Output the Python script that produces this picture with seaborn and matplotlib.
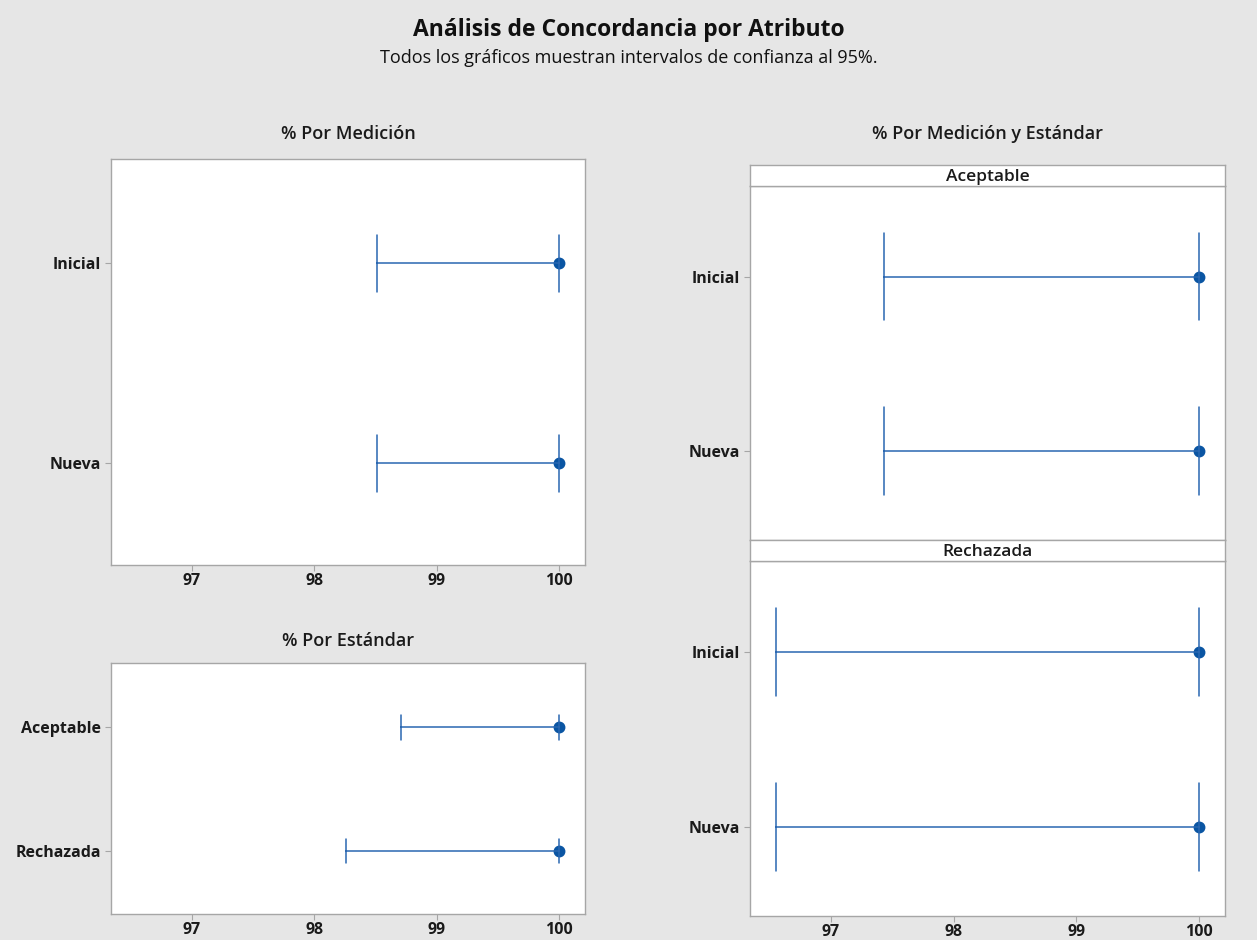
import matplotlib
matplotlib.use("Agg")
import matplotlib.pyplot as plt
import seaborn as sns
import pandas as pd

# Agreement percentages (estimate) and lower 95% confidence bounds
mediciones = ["Inicial", "Nueva"]
med_pct = [100.0, 100.0]
med_lower = [98.51, 98.51]

estandares = ["Aceptable", "Rechazada"]
est_pct = [100.0, 100.0]
est_lower = [98.71, 98.26]

# By measurement within each standard
cruce_pct = {"Aceptable": [100.0, 100.0], "Rechazada": [100.0, 100.0]}
cruce_lower = {"Aceptable": [97.43, 97.43], "Rechazada": [96.55, 96.55]}

x_ticks = [97, 98, 99, 100]
x_lim = (96.34, 100.21)

sns.set_theme(style="white")
plt.rcParams["font.family"] = ["Open Sans", "DejaVu Sans"]

BG = "#e6e6e6"
EDGE = "#a6a6a6"
LINE = "#2a67b1"
DOT = "#0a55a3"
TXT = "#1a1a1a"


def long_frame(cats, pct, lower):
    rows = []
    for c, p, lo in zip(cats, pct, lower):
        rows.append({"grupo": c, "pct": p})
        rows.append({"grupo": c, "pct": lo})
    return pd.DataFrame(rows)


def interval_panel(ax, cats, pct, lower, cap):
    df = long_frame(cats, pct, lower)
    sns.pointplot(data=df, x="pct", y="grupo", order=cats, ax=ax,
                  estimator="max", errorbar=lambda v: (v.min(), v.max()),
                  capsize=cap, linestyle="none", color=DOT, marker="o",
                  markersize=6.5, err_kws={"linewidth": 1.1, "color": LINE})
    n = len(cats)
    ax.set_ylim(n - 1 + 0.51, -0.52)
    ax.set_xlim(*x_lim)
    ax.set_xticks(x_ticks)
    ax.set_xticklabels([str(t) for t in x_ticks])
    ax.set_xlabel("")
    ax.set_ylabel("")
    ax.set_facecolor("white")
    for s in ax.spines.values():
        s.set_color(EDGE)
        s.set_linewidth(1.0)
    ax.tick_params(axis="both", which="both", length=4, width=0.8,
                   color=EDGE, labelsize=11.5, pad=3)
    ax.tick_params(axis="x", bottom=True, labelsize=11.5, pad=2)
    ax.tick_params(axis="y", left=True)
    for lab in ax.get_xticklabels() + ax.get_yticklabels():
        lab.set_fontweight("bold")
        lab.set_color(TXT)


def header(fig, rect, text):
    hax = fig.add_axes(rect)
    hax.set_facecolor("white")
    hax.set_xticks([])
    hax.set_yticks([])
    for s in hax.spines.values():
        s.set_color(EDGE)
        s.set_linewidth(1.0)
    hax.text(0.5, 0.45, text, ha="center", va="center", fontsize=12.5,
             fontweight="semibold", color=TXT, transform=hax.transAxes)


W, H = 1257, 940
fig = plt.figure(figsize=(W / 100, H / 100), dpi=100, facecolor=BG)


def rect(x0, y0, x1, y1):
    return [x0 / W, 1 - y1 / H, (x1 - x0) / W, (y1 - y0) / H]


ax_med = fig.add_axes(rect(111, 159, 585, 565))
interval_panel(ax_med, mediciones, med_pct, med_lower, 0.285)

ax_est = fig.add_axes(rect(111, 663, 585, 914))
interval_panel(ax_est, estandares, est_pct, est_lower, 0.2)

ax_ac = fig.add_axes(rect(750, 186, 1225, 540))
interval_panel(ax_ac, mediciones, cruce_pct["Aceptable"], cruce_lower["Aceptable"], 0.5)
ax_ac.tick_params(axis="x", bottom=False, labelbottom=False)
header(fig, rect(750, 165, 1225, 186), "Aceptable")

ax_re = fig.add_axes(rect(750, 561, 1225, 916))
interval_panel(ax_re, mediciones, cruce_pct["Rechazada"], cruce_lower["Rechazada"], 0.5)
header(fig, rect(750, 540, 1225, 561), "Rechazada")

fig.text(348 / W, 1 - 134 / H, "% Por Medición", ha="center", va="center",
         fontsize=13, fontweight="semibold", color=TXT)
fig.text(348 / W, 1 - 641 / H, "% Por Estándar", ha="center", va="center",
         fontsize=13, fontweight="semibold", color=TXT)
fig.text(987 / W, 1 - 134 / H, "% Por Medición y Estándar", ha="center", va="center",
         fontsize=13, fontweight="semibold", color=TXT)

fig.text(629 / W, 1 - 30 / H, "Análisis de Concordancia por Atributo", ha="center",
         va="center", fontsize=16.5, fontweight="bold", color="#111111")
fig.text(629 / W, 1 - 58 / H, "Todos los gráficos muestran intervalos de confianza al 95%.",
         ha="center", va="center", fontsize=13, color="#111111")

fig.savefig("out.png", dpi=100, facecolor=BG)
